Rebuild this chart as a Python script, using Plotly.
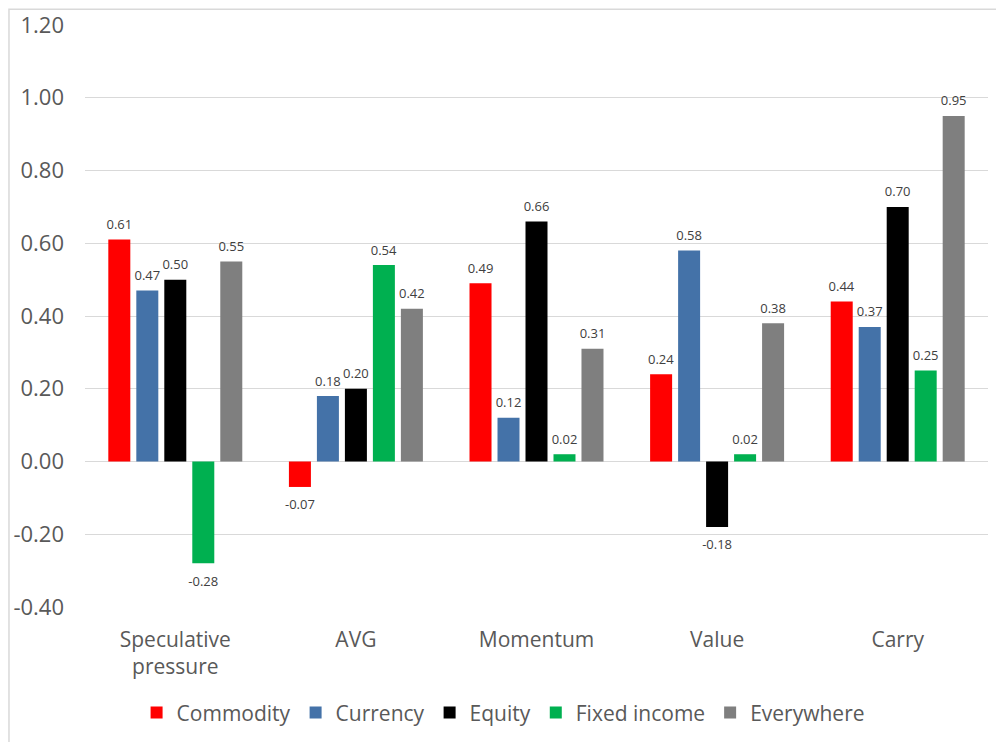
import plotly.graph_objects as go

categories = ["Speculative<br>pressure", "AVG", "Momentum", "Value", "Carry"]
series_names = ["Commodity", "Currency", "Equity", "Fixed income", "Everywhere"]
commodity = [0.61, -0.07, 0.49, 0.24, 0.44]
currency = [0.47, 0.18, 0.12, 0.58, 0.37]
equity = [0.50, 0.20, 0.66, -0.18, 0.70]
fixed_income = [-0.28, 0.54, 0.02, 0.02, 0.25]
everywhere = [0.55, 0.42, 0.31, 0.38, 0.95]
y_ticks = [-0.4, -0.2, 0.0, 0.2, 0.4, 0.6, 0.8, 1.0, 1.2]

colors = ["#FF0000", "#4472A8", "#000000", "#00B050", "#7F7F7F"]
series = [commodity, currency, equity, fixed_income, everywhere]


def label(v):
    s = f"<span style='font-size:13px'>{v:.2f}</span>"
    return (" <br>" + s) if v < 0 else (s + "<br> ")


fig = go.Figure()
for name, vals, col in zip(series_names, series, colors):
    fig.add_trace(go.Bar(
        x=categories, y=vals, name=name, marker=dict(color=col, line=dict(width=0)),
        text=[label(v) for v in vals], textposition="outside", constraintext="none",
        textfont=dict(size=[8 if v < 0 else 5 for v in vals], color="#404040", family="Open Sans"),
        cliponaxis=False,
    ))

fig.update_layout(
    width=1004, height=742,
    margin=dict(l=77, r=24, t=17, b=143, autoexpand=False),
    paper_bgcolor="white", plot_bgcolor="white",
    barmode="group", bargap=0.225, bargroupgap=0.214,
    font=dict(family="Open Sans", color="#595959"),
    showlegend=True,
    legend=dict(orientation="h", x=0.463, xanchor="center", y=-0.182, yanchor="middle",
                font=dict(size=21, color="#595959"), itemwidth=30, traceorder="normal"),
    xaxis=dict(showline=False, ticks="", tickfont=dict(size=21, color="#595959"), showgrid=False,
               automargin=False, ticklabelstandoff=18),
    yaxis=dict(range=[-0.4, 1.2], tickvals=y_ticks, ticktext=[f"{t:.2f}" for t in y_ticks],
               tickfont=dict(size=22, color="#595959"), gridcolor="#D9D9D9", gridwidth=1,
               zeroline=True, zerolinecolor="#D9D9D9", zerolinewidth=1, showline=False, ticks="",
               ticklabelstandoff=20, automargin=False),
    shapes=[dict(type="rect", xref="paper", yref="paper", x0=-0.0842, x1=1.0155, y0=-0.237, y1=1.027,
                 line=dict(color="#D9D9D9", width=1.5))],
)

fig.write_html("out.html")
